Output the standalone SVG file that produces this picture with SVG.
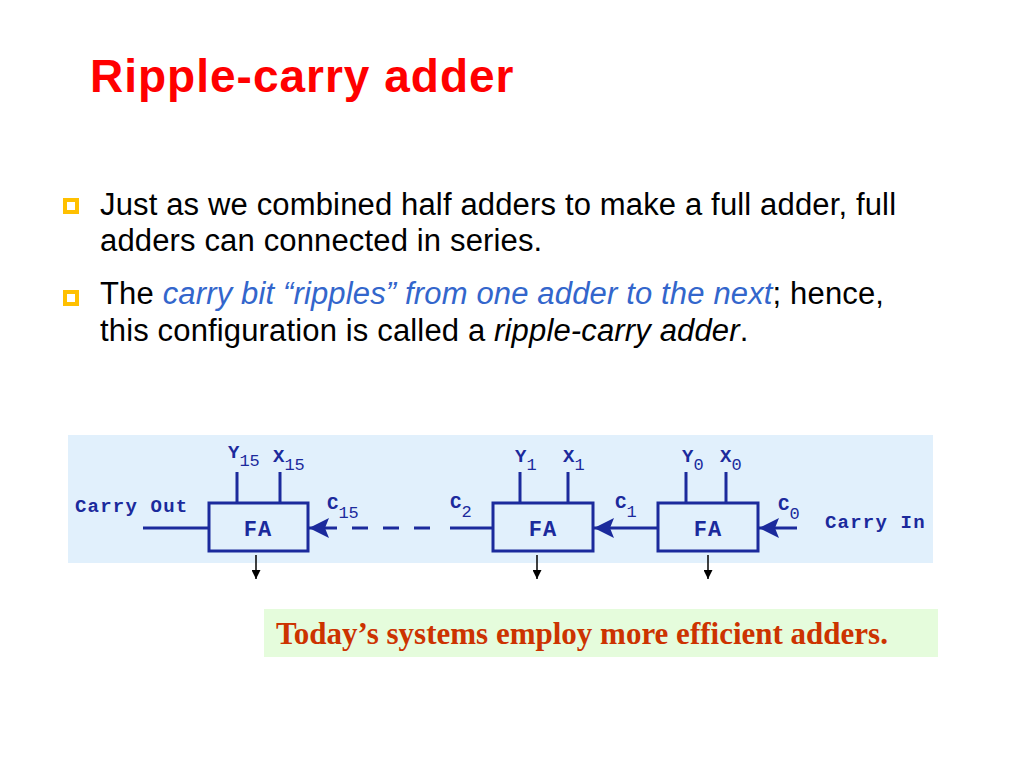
<svg xmlns="http://www.w3.org/2000/svg" width="1024" height="768" viewBox="0 0 1024 768">
<style>
.title{font-family:"Liberation Sans",Arial,sans-serif;font-weight:bold;font-size:46px;letter-spacing:1px;fill:#FF0000}
.body{font-family:"Liberation Sans",Arial,sans-serif;font-size:31px;letter-spacing:0.15px;fill:#000}
.hl{fill:#3366CC;font-style:italic}
.it{font-style:italic}
.bul{fill:#fff;stroke:#FFC000;stroke-width:4}
.mono{font-family:"Liberation Mono","Courier New",monospace;font-weight:bold;fill:#1B2A9C}
.lbl{font-size:19px;letter-spacing:1.2px}
.sym{font-size:19px}
.sub{font-size:17px;font-weight:normal}
.fa{font-size:22px;letter-spacing:1px;text-anchor:middle}
.box{fill:none;stroke:#1B2A9C;stroke-width:3}
.wire{stroke:#1B2A9C;stroke-width:3;fill:none}
.out{stroke:#000;stroke-width:1.5;fill:none}
.note{font-family:"Liberation Serif","Times New Roman",serif;font-weight:bold;font-size:31px;fill:#CC3300}
</style>
<defs>
<marker id="ah" viewBox="0 0 20 20" refX="20" refY="10" markerWidth="20" markerHeight="20" markerUnits="userSpaceOnUse" orient="auto">
<path d="M0,0 L20,10 L0,20 L4,10 Z" fill="#1B2A9C"/>
</marker>
<marker id="oh" viewBox="0 0 10 10" refX="10" refY="5" markerWidth="9" markerHeight="9" markerUnits="userSpaceOnUse" orient="auto">
<path d="M0,0 L10,5 L0,10 Z" fill="#000"/>
</marker>
</defs>
<rect width="1024" height="768" fill="#fff"/>
<text class="title" x="90" y="92">Ripple-carry adder</text>
<rect class="bul" x="65" y="200" width="12" height="12"/>
<text class="body" x="100" y="215">Just as we combined half adders to make a full adder, full</text>
<text class="body" x="100" y="251">adders can connected in series.</text>
<rect class="bul" x="65" y="292" width="12" height="12"/>
<text class="body" x="100" y="304">The <tspan class="hl">carry bit “ripples” from one adder to the next</tspan>; hence,</text>
<text class="body" x="100" y="341">this configuration is called a <tspan class="it">ripple-carry adder</tspan>.</text>

<rect x="68" y="435" width="865" height="128" fill="#E1F0FC"/>

<g id="connectors">
<line class="wire" x1="143" y1="528" x2="208" y2="528"/>
<line class="wire" x1="237" y1="472" x2="237" y2="503"/>
<line class="wire" x1="280" y1="472" x2="280" y2="503"/>
<line class="wire" x1="520" y1="472" x2="520" y2="503"/>
<line class="wire" x1="568" y1="472" x2="568" y2="503"/>
<line class="wire" x1="686" y1="472" x2="686" y2="503"/>
<line class="wire" x1="726" y1="472" x2="726" y2="503"/>
<line class="wire" x1="337" y1="528" x2="309" y2="528" marker-end="url(#ah)"/>
<line class="wire" x1="352" y1="528" x2="430" y2="528" stroke-dasharray="16,15"/>
<line class="wire" x1="450" y1="528" x2="493" y2="528"/>
<line class="wire" x1="658" y1="528" x2="594" y2="528" marker-end="url(#ah)"/>
<line class="wire" x1="797" y1="528" x2="759" y2="528" marker-end="url(#ah)"/>
<line class="out" x1="256" y1="555" x2="256" y2="579" marker-end="url(#oh)"/>
<line class="out" x1="537" y1="555" x2="537" y2="579" marker-end="url(#oh)"/>
<line class="out" x1="708" y1="555" x2="708" y2="579" marker-end="url(#oh)"/>
</g>

<g id="fa15">
<rect class="box" x="209" y="503" width="99" height="48"/>
<text class="mono fa" x="258" y="536">FA</text>
</g>
<g id="fa1">
<rect class="box" x="493" y="503" width="100" height="48"/>
<text class="mono fa" x="543" y="536">FA</text>
</g>
<g id="fa0">
<rect class="box" x="658" y="503" width="100" height="48"/>
<text class="mono fa" x="708" y="536">FA</text>
</g>

<g id="labels">
<text class="mono lbl" x="75" y="512">Carry Out</text>
<text class="mono lbl" x="825" y="528">Carry In</text>
<text class="mono sym" x="228" y="458">Y<tspan class="sub" dy="8">15</tspan></text>
<text class="mono sym" x="273" y="462">X<tspan class="sub" dy="8">15</tspan></text>
<text class="mono sym" x="515" y="462">Y<tspan class="sub" dy="8">1</tspan></text>
<text class="mono sym" x="563" y="462">X<tspan class="sub" dy="8">1</tspan></text>
<text class="mono sym" x="682" y="462">Y<tspan class="sub" dy="8">0</tspan></text>
<text class="mono sym" x="720" y="462">X<tspan class="sub" dy="8">0</tspan></text>
<text class="mono sym" x="327" y="509">C<tspan class="sub" dy="9">15</tspan></text>
<text class="mono sym" x="450" y="508">C<tspan class="sub" dy="9">2</tspan></text>
<text class="mono sym" x="615" y="508">C<tspan class="sub" dy="9">1</tspan></text>
<text class="mono sym" x="778" y="510">C<tspan class="sub" dy="9">0</tspan></text>
</g>

<rect x="264" y="609" width="674" height="48" fill="#E5FCDC"/>
<text class="note" x="276" y="644">Today’s systems employ more efficient adders.</text>
</svg>
